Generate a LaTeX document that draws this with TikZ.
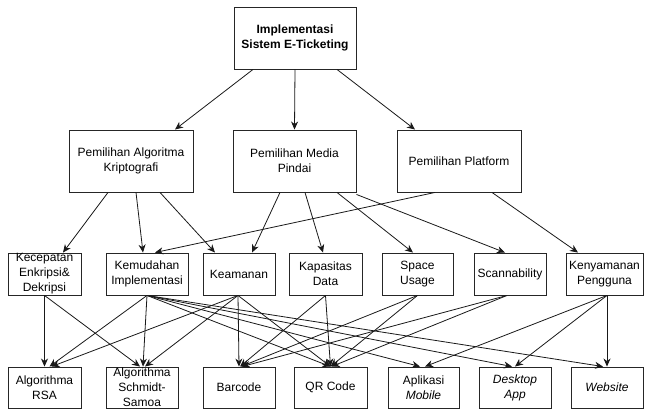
\documentclass[tikz,border=0pt]{standalone}
\usepackage{fontspec}
\setmainfont{Liberation Sans}
\usetikzlibrary{arrows.meta}
\begin{document}
\begin{tikzpicture}[x=1pt,y=-1pt,
  box/.style={draw=black!85, line width=0.9pt, fill=white, align=center,
    inner xsep=1pt, inner ysep=-8pt, font=\fontsize{12}{15}\selectfont},
  big/.style={box, minimum height=62pt},
  mid/.style={box, minimum height=42pt},
  low/.style={box, minimum height=41pt},
  arr/.style={-{Stealth[length=8pt,width=7pt,inset=2.5pt]}, line width=0.8pt, draw=black!90}]
\useasboundingbox (0,0) rectangle (645,409);

% root
\node[big, minimum width=122pt] (root) at (295,38) {\bfseries Implementasi\\\bfseries Sistem E-Ticketing};

% second level
\node[big, minimum width=124pt] (kr) at (131,161) {Pemilihan Algoritma\\Kriptografi};
\node[big, minimum width=123pt] (md) at (294.5,161) {Pemilihan Media\\Pindai};
\node[big, minimum width=124pt] (pf) at (459,161) {Pemilihan Platform};

% criteria
\node[mid, minimum width=73pt] (kec) at (44.5,274) {Kecepatan\\Enkripsi\&\\Dekripsi};
\node[mid, minimum width=82pt] (kem) at (147,274) {Kemudahan\\Implementasi};
\node[mid, minimum width=72pt] (kea) at (239,274) {Keamanan};
\node[mid, minimum width=73pt] (kap) at (325.5,274) {Kapasitas\\Data};
\node[mid, minimum width=71pt] (spc) at (417.5,274) {Space\\Usage};
\node[mid, minimum width=72pt] (scn) at (510,274) {Scannability};
\node[mid, minimum width=77pt] (ken) at (604.5,274) {Kenyamanan\\Pengguna};

% alternatives
\node[low, minimum width=73pt] (rsa) at (44.5,387.5) {Algorithma\\RSA};
\node[low, minimum width=72pt] (sch) at (142,387.5) {Algorithma\\Schmidt-\\Samoa};
\node[low, minimum width=72pt] (bar) at (239,387.5) {Barcode};
\node[low, minimum width=73pt] (qr)  at (330.5,387.5) {QR Code};
\node[low, minimum width=71pt] (mob) at (423.5,387.5) {Aplikasi\\\itshape Mobile};
\node[low, minimum width=72pt] (dsk) at (515,387.5) {\itshape Desktop\\\itshape App};
\node[low, minimum width=72pt] (web) at (607,387.5) {\itshape Website};

% root to second level
\draw[arr] ([xshift=-42pt]root.south) -- ([xshift=44pt]kr.north);
\draw[arr] (root.south) -- (md.north);
\draw[arr] ([xshift=42pt]root.south) -- ([xshift=-44pt]pf.north);

% second level to criteria
\draw[arr] ([xshift=-23pt]kr.south) -- ([xshift=18.5pt]kec.north);
\draw[arr] ([xshift=5pt]kr.south) -- ([xshift=-4pt]kem.north);
\draw[arr] ([xshift=29pt]kr.south) -- ([xshift=-24pt]kea.north);
\draw[arr] ([xshift=-14.5pt]md.south) -- ([xshift=13pt]kea.north);
\draw[arr] ([xshift=10.5pt]md.south) -- ([xshift=-2.5pt]kap.north);
\draw[arr] ([xshift=42.5pt]md.south) -- ([xshift=-4.5pt]spc.north);
\draw[arr] ([yshift=-2pt]md.south east) -- ([xshift=-5pt]scn.north);
\draw[arr] ([xshift=-24pt]pf.south) -- ([xshift=8pt]kem.north);
\draw[arr] ([xshift=33pt]pf.south) -- ([xshift=-26.5pt]ken.north);

% criteria to alternatives
\draw[arr] (kec.south) -- (rsa.north);
\draw[arr] (kec.south) -- ([xshift=-2pt]sch.north);
\draw[arr] (kem.south) -- ([xshift=5pt]rsa.north);
\draw[arr] (kem.south) -- ([xshift=1pt]sch.north);
\draw[arr] (kem.south) -- (qr.north);
\draw[arr] (kem.south) -- ([xshift=-3.5pt]mob.north);
\draw[arr] (kem.south) -- ([xshift=-3pt]dsk.north);
\draw[arr] (kem.south) -- ([xshift=-4pt]web.north);
\draw[arr] ([xshift=-1pt]kea.south) -- ([xshift=7pt]rsa.north);
\draw[arr] ([xshift=-1pt]kea.south) -- ([xshift=3pt]sch.north);
\draw[arr] ([xshift=-1pt]kea.south) -- (bar.north);
\draw[arr] ([xshift=-1pt]kea.south) -- (qr.north);
\draw[arr] (kap.south) -- ([xshift=1pt]bar.north);
\draw[arr] (kap.south) -- (qr.north);
\draw[arr] (spc.south) -- ([xshift=2pt]bar.north);
\draw[arr] (spc.south) -- (qr.north);
\draw[arr] ([xshift=-3pt]scn.south) -- ([xshift=3pt]bar.north);
\draw[arr] ([xshift=-3pt]scn.south) -- ([xshift=1pt]qr.north);
\draw[arr] ([xshift=2.5pt]ken.south) -- ([xshift=1.5pt]mob.north);
\draw[arr] ([xshift=2.5pt]ken.south) -- (dsk.north);
\draw[arr] ([xshift=2.5pt]ken.south) -- (web.north);
\end{tikzpicture}
\end{document}
